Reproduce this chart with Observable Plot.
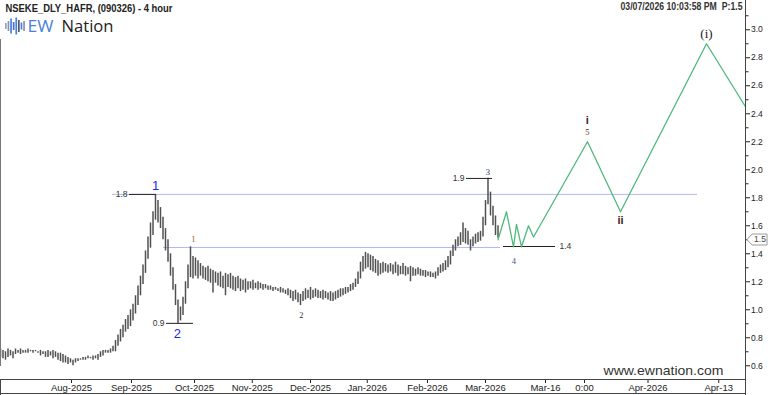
<!DOCTYPE html>
<html><head><meta charset="utf-8">
<script src="https://cdn.jsdelivr.net/npm/d3@7"></script>
<script src="https://cdn.jsdelivr.net/npm/@observablehq/plot@0.6"></script>
<style>html,body{margin:0;padding:0;background:#fff;} #chart{width:768px;height:395px;}</style>
</head><body><div id="chart"></div>
<script>
// ---------- DATA ----------
const chartTitle = "NSEKE_DLY_HAFR, (090326) - 4 hour";
const stamp = "03/07/2026 10:03:58 PM  P:1.5";
const lastPrice = 1.5;
const site = "www.ewnation.com";
const logoA = "EW", logoB = "Nation";

// 4-hour bars (bar index = position), high / low
const barHigh = [
0.72,0.71,0.70,0.72,0.71,0.70,0.72,0.71,0.72,0.71,0.71,0.72,0.71,0.71,0.71,0.70,0.71,0.70,0.70,0.71,
0.70,0.71,0.70,0.69,0.69,0.68,0.67,0.66,0.65,0.64,0.65,0.65,0.65,0.66,0.66,0.67,0.66,0.67,0.67,0.68,
0.70,0.71,0.71,0.71,0.72,0.74,0.78,0.82,0.86,0.89,0.93,0.96,1.00,1.04,1.10,1.17,1.24,1.32,1.42,1.52,
1.62,1.70,1.82,1.78,1.73,1.66,1.58,1.50,1.40,1.30,1.18,1.07,1.02,1.09,1.20,1.32,1.45,1.38,1.37,1.35,
1.33,1.31,1.30,1.31,1.29,1.28,1.27,1.26,1.27,1.24,1.26,1.25,1.26,1.24,1.23,1.24,1.22,1.21,1.22,1.20,
1.20,1.21,1.19,1.20,1.19,1.18,1.18,1.17,1.17,1.16,1.16,1.15,1.16,1.15,1.14,1.15,1.14,1.13,1.14,1.12,
1.11,1.13,1.15,1.14,1.16,1.14,1.15,1.14,1.13,1.14,1.13,1.12,1.13,1.12,1.13,1.14,1.15,1.15,1.16,1.16,
1.18,1.19,1.22,1.27,1.34,1.38,1.41,1.40,1.39,1.38,1.36,1.35,1.33,1.34,1.33,1.32,1.33,1.32,1.34,1.32,
1.31,1.33,1.31,1.30,1.31,1.30,1.29,1.30,1.29,1.28,1.28,1.27,1.27,1.26,1.27,1.30,1.32,1.33,1.35,1.38,
1.42,1.46,1.50,1.52,1.55,1.62,1.58,1.56,1.50,1.52,1.54,1.55,1.56,1.66,1.78,1.94,1.84,1.74,1.67,1.60];
const barLow = [
0.66,0.65,0.64,0.66,0.67,0.65,0.68,0.69,0.68,0.69,0.69,0.69,0.70,0.69,0.70,0.69,0.67,0.68,0.66,0.66,
0.67,0.65,0.66,0.64,0.63,0.62,0.62,0.61,0.62,0.60,0.62,0.63,0.64,0.64,0.64,0.65,0.65,0.64,0.65,0.64,
0.66,0.67,0.69,0.69,0.69,0.70,0.70,0.74,0.77,0.80,0.84,0.86,0.88,0.92,0.97,1.03,1.10,1.18,1.26,1.36,
1.44,1.53,1.64,1.62,1.58,1.50,1.42,1.34,1.24,1.14,1.03,0.90,0.92,0.96,1.04,1.15,1.23,1.22,1.24,1.22,
1.24,1.22,1.21,1.20,1.19,1.12,1.19,1.17,1.16,1.15,1.10,1.16,1.15,1.14,1.13,1.15,1.13,1.14,1.12,1.14,
1.15,1.14,1.15,1.14,1.15,1.14,1.15,1.14,1.14,1.13,1.14,1.13,1.12,1.12,1.11,1.10,1.08,1.06,1.07,1.05,
1.03,1.06,1.07,1.08,1.07,1.08,1.09,1.08,1.08,1.07,1.08,1.07,1.06,1.06,1.07,1.08,1.09,1.10,1.11,1.12,
1.13,1.14,1.16,1.18,1.22,1.27,1.29,1.30,1.28,1.27,1.26,1.24,1.25,1.26,1.27,1.26,1.27,1.25,1.26,1.24,
1.25,1.25,1.24,1.25,1.20,1.24,1.24,1.25,1.24,1.24,1.23,1.24,1.23,1.23,1.22,1.24,1.26,1.27,1.28,1.30,
1.32,1.38,1.42,1.45,1.46,1.48,1.47,1.46,1.42,1.45,1.47,1.48,1.49,1.52,1.60,1.75,1.67,1.60,1.53,1.51];

// projected path (bar index, price)
const projBar   = [199, 202.4, 205.2, 206.4, 208.4, 211.2, 213.2, 234.8, 248, 282.4, 298];
const projPrice = [1.50, 1.70, 1.45, 1.61, 1.45, 1.60, 1.52, 2.20, 1.70, 2.90, 2.45];

// horizontal reference levels
const blueLevels = [
  {price: 1.824, from: 44.8, to: 278.8},
  {price: 1.445, from: 65.2, to: 200}
];
const pivotLevels = [
  {label: "1.8", price: 1.824, from: 51.6, to: 62.4},
  {label: "0.9", price: 0.903, from: 66.4, to: 77.2},
  {label: "1.9", price: 1.938, from: 186.4, to: 196.8},
  {label: "1.4", price: 1.452, from: 201.2, to: 222}
];

// wave labels
const degreeLabels = [{text: "1", bar: 62, price: 1.888}, {text: "2", bar: 70.7, price: 0.829}];
const minorLabels = [
  {text: "1", bar: 77.1, price: 1.507},
  {text: "2", bar: 120.3, price: 0.959},
  {text: "3", bar: 194.9, price: 1.985},
  {text: "4", bar: 205.3, price: 1.347},
  {text: "5", bar: 234.7, price: 2.269}
];
const romanLabels = [{text: "i", bar: 234.7, price: 2.352}, {text: "ii", bar: 248, price: 1.641}];
const circleLabels = [{text: "(i)", bar: 282.4, price: 2.97}];

// axes
const xTickBars = [28.4, 52.4, 77.6, 100.7, 124, 146.7, 170.8, 194, 218, 233.6, 259, 287.3];
const xTickLabels = ["Aug-2025","Sep-2025","Oct-2025","Nov-2025","Dec-2025","Jan-2026","Feb-2026","Mar-2026","Mar-16","0:00","Apr-2026","Apr-13"];
const yTicks = [0.6, 0.8, 1.0, 1.2, 1.4, 1.6, 1.8, 2.0, 2.2, 2.4, 2.6, 2.8, 3.0];
const yTickLabels = ["0.6","0.8","1.0","1.2","1.4","1.6","1.8","2.0","2.2","2.4","2.6","2.8","3.0"];
const yMinorTicks = [0.7, 0.9, 1.1, 1.3, 1.5, 1.7, 1.9, 2.1, 2.3, 2.5, 2.7, 2.9, 3.1];

// ---------- BUILD ----------
const bars = barHigh.map((h, i) => ({bar: i, high: h, low: barLow[i]}));
const proj = projBar.map((b, i) => ({bar: b, price: projPrice[i]}));
const xLabelOf = new Map(xTickBars.map((b, i) => [b, xTickLabels[i]]));
const yLabelOf = new Map(yTicks.map((v, i) => [v, yTickLabels[i]]));

const sans = "'Liberation Sans', Arial, sans-serif";
const serif = "'Liberation Serif', 'DejaVu Serif', serif";
const logoFont = "'Open Sans', 'Liberation Sans', sans-serif";
const minorColor = {"1": "#a0602a", "2": "#333333", "3": "#2c3a78", "4": "#3a5a8a", "5": "#4a3a2a"};

// frame lines and logo icon (decoration)
function frameMark(index, scales, values, dims) {
  const g = d3.create("svg:g").attr("stroke", "#444").attr("fill", "none").attr("shape-rendering", "crispEdges");
  const R = dims.width - dims.marginRight + 0.5, B = dims.height - dims.marginBottom + 0.5;
  g.append("line").attr("x1", R).attr("x2", R).attr("y1", 0).attr("y2", dims.height);
  g.append("line").attr("x1", 0).attr("x2", R).attr("y1", B).attr("y2", B);
  g.append("line").attr("x1", 0).attr("x2", R).attr("y1", dims.height - 1.5).attr("y2", dims.height - 1.5);
  g.append("line").attr("x1", 0.5).attr("x2", 0.5).attr("y1", B).attr("y2", dims.height);
  g.append("line").attr("x1", 0.5).attr("x2", 0.5).attr("y1", 39).attr("y2", 366).attr("stroke", "#777");
  return g.node();
}
function logoIcon() {
  const g = d3.create("svg:g");
  const hs = [6, 10, 15, 8, 17, 12, 7, 10];
  const cs = ["#9aa3b5", "#8a93a8", "#4a7fe0", "#3f74dc", "#4a7fe0", "#555a66", "#4a7fe0", "#8a93a8"];
  hs.forEach((h, i) => g.append("rect").attr("x", 5 + i * 2.6).attr("y", 26 - h / 2).attr("width", 1.7).attr("height", h).attr("fill", cs[i]));
  return g.node();
}
function priceTag(index, scales, values, dims) {
  const y = Math.round(scales.y(lastPrice)) + 0.5;
  const x0 = dims.width - dims.marginRight + 2;
  const g = d3.create("svg:g");
  g.append("path").attr("d", `M${x0},${y} L${x0 + 5},${y - 5.5} H${x0 + 20} V${y + 5.5} H${x0 + 5} Z`)
    .attr("fill", "#fff").attr("stroke", "#9a9a9a");
  g.append("text").attr("x", x0 + 13).attr("y", y).attr("dy", "0.35em").attr("text-anchor", "middle")
    .attr("font-size", 8.5).attr("font-family", sans).attr("fill", "#444").text(String(lastPrice));
  return g.node();
}

const chart = Plot.plot({
  width: 768, height: 395,
  marginTop: 0, marginRight: 23, marginBottom: 16, marginLeft: 0,
  x: {type: "linear", domain: [0, 298]},
  y: {type: "linear", domain: [0.502, 3.209]},
  style: {background: "#fff", fontFamily: sans, overflow: "visible"},
  marks: [
    Plot.ruleY(blueLevels, {y: "price", x1: "from", x2: "to", stroke: "#b3b8f2", strokeWidth: 1}),
    Plot.ruleX(bars, {x: "bar", y1: "low", y2: "high", stroke: "#505050", strokeWidth: 1.5}),
    Plot.ruleY(pivotLevels, {y: "price", x1: "from", x2: "to", stroke: "#222", strokeWidth: 1}),
    Plot.text(pivotLevels.slice(0, 3), {x: "from", y: "price", text: "label", textAnchor: "end", dx: -2, fontSize: 8.5, fill: "#333"}),
    Plot.text(pivotLevels.slice(3), {x: "to", y: "price", text: "label", textAnchor: "start", dx: 4, fontSize: 8.5, fill: "#333"}),
    Plot.line(proj, {x: "bar", y: "price", stroke: "#4fb97d", strokeWidth: 1.3}),
    Plot.text(degreeLabels, {x: "bar", y: "price", text: "text", fontSize: 13, fill: "#2424dc"}),
    Plot.text(minorLabels, {x: "bar", y: "price", text: "text", fontSize: 8.5, fontFamily: serif, fill: d => minorColor[d.text]}),
    Plot.text(romanLabels, {x: "bar", y: "price", text: "text", fontSize: 11, fontWeight: "bold", fill: "#3b1f1f"}),
    Plot.text(circleLabels, {x: "bar", y: "price", text: "text", fontSize: 13, fontFamily: serif, fill: "#222"}),
    Plot.axisX({ticks: xTickBars, tickFormat: d => xLabelOf.get(d), tickSize: 4, tickPadding: 1, fontSize: 9.5, color: "#222"}),
    Plot.axisY({anchor: "right", ticks: yTicks, tickFormat: d => yLabelOf.get(d), tickSize: 4, tickPadding: 1.5, fontSize: 8.5, color: "#222"}),
    Plot.axisY({anchor: "right", ticks: yMinorTicks, tickFormat: () => "", tickSize: 2.5, color: "#222"}),
    frameMark,
    priceTag,
    Plot.text([chartTitle], {frameAnchor: "top-left", dx: 5, dy: 4, lineAnchor: "top", fontSize: 10.5, fontWeight: "bold", fill: "#222"}),
    Plot.text([stamp], {frameAnchor: "top-right", dx: -3, dy: 2, lineAnchor: "top", fontSize: 10, fontWeight: "bold", fill: "#333", style: "white-space:pre"}),
    Plot.text([logoA], {frameAnchor: "top-left", dx: 27, dy: 26, lineAnchor: "middle", textAnchor: "start", fontSize: 17, fontWeight: 500, fontFamily: logoFont, fill: "#4a7fe0"}),
    Plot.text([logoB], {frameAnchor: "top-left", dx: 61, dy: 26, lineAnchor: "middle", textAnchor: "start", fontSize: 17, fontWeight: 500, fontFamily: logoFont, fill: "#1e1e1e"}),
    logoIcon,
    Plot.text([site], {frameAnchor: "bottom-right", dx: -22, dy: -5, lineAnchor: "bottom", textAnchor: "end", fontSize: 13.5, fill: "#333"})
  ]
});
// fit condensed header texts to the widths they have in the reference
const fitWidth = new Map([[chartTitle, 167], [stamp, 122], [logoA, 26], [logoB, 52], [site, 120]]);
d3.select(chart).selectAll("text").each(function () {
  const w = fitWidth.get(this.textContent);
  if (w) { this.setAttribute("textLength", w); this.setAttribute("lengthAdjust", "spacingAndGlyphs"); }
});
document.getElementById("chart").appendChild(chart);
</script></body></html>
